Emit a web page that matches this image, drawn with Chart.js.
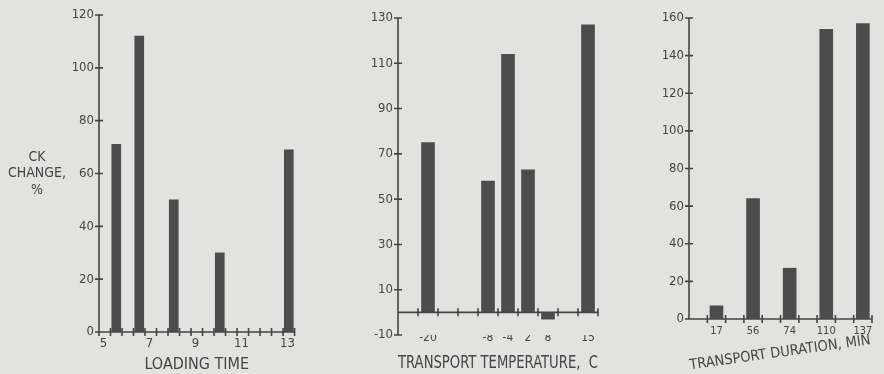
<!DOCTYPE html>
<html>
<head>
<meta charset="utf-8">
<script src="https://cdn.jsdelivr.net/npm/chart.js@4.4.1/dist/chart.umd.min.js"></script>
<style>
  html, body { margin: 0; padding: 0; background: #e2e2e0; }
  #wrap { position: relative; width: 884px; height: 374px; overflow: hidden; }
  canvas { position: absolute; top: 0; }
</style>
</head>
<body>
<div id="wrap">
  <canvas id="c1" style="left:0px" width="306" height="374"></canvas>
  <canvas id="c2" style="left:300px" width="300" height="374"></canvas>
  <canvas id="c3" style="left:600px" width="284" height="374"></canvas>
</div>
<script>
// --- data ---
// panel 1: loading time (half hour bins) vs CK change
var loadingTime = [5.25, 6.25, 7.75, 9.75, 12.75];
var loadingChange = [71, 112, 50, 30, 69];
var loadXTicks = [4.5, 5, 5.5, 6, 6.5, 7, 7.5, 8, 8.5, 9, 9.5, 10, 10.5, 11, 11.5, 12, 12.5, 13];
var loadXLabels = [5, 7, 9, 11, 13];
var loadYTicks = [0, 20, 40, 60, 80, 100, 120];

// panel 2: transport temperature
var tempLabels = ['', '-20', '', '', '-8', '-4', '2', '8', '', '15'];
var tempChange = [null, 75, null, null, 58, 114, 63, -3, null, 127];
var tempYTicks = [-10, 10, 30, 50, 70, 90, 110, 130];

// panel 3: transport duration
var durLabels = ['', '17', '', '56', '', '74', '', '110', '', '137'];
var durChange = [null, 7, null, 64, null, 27, null, 154, null, 157];
var durYTicks = [0, 20, 40, 60, 80, 100, 120, 140, 160];

var ink = '#454545';
var barColor = '#4c4c4c';
var fontFam = "'Liberation Sans Narrow', 'DejaVu Sans Condensed', 'Arial Narrow', sans-serif";
Chart.defaults.font.family = fontFam;
Chart.defaults.color = ink;

// plotter style axes: lines with tick marks crossing them
var plotterAxes = {
    id: 'plotterAxes',
    afterDatasetsDraw: function (chart, args, opts) {
        var ctx = chart.ctx, a = chart.chartArea;
        var x = chart.scales.x, y = chart.scales.y;
        var base = y.getPixelForValue(opts.base);
        ctx.save();
        ctx.strokeStyle = ink;
        ctx.lineWidth = 1.6;
        ctx.beginPath();
        ctx.moveTo(a.left, a.top);
        ctx.lineTo(a.left, a.bottom);
        ctx.moveTo(a.left, base);
        ctx.lineTo(a.right, base);
        y.ticks.forEach(function (t) {
            var py = y.getPixelForValue(t.value);
            ctx.moveTo(a.left - 4, py);
            ctx.lineTo(a.left + 4, py);
        });
        if (x.type === 'category') {
            var half = (x.getPixelForValue(1) - x.getPixelForValue(0)) / 2;
            for (var i = 1; i <= x.ticks.length; i++) {
                var px = x.getPixelForValue(i) - half;
                ctx.moveTo(px, base - 4);
                ctx.lineTo(px, base + 4);
            }
        } else {
            x.ticks.forEach(function (t) {
                var px = x.getPixelForValue(t.value);
                ctx.moveTo(px, base - 4);
                ctx.lineTo(px, base + 4);
            });
        }
        ctx.stroke();

        ctx.fillStyle = ink;
        ctx.textAlign = 'center';
        ctx.textBaseline = 'middle';
        if (opts.yTitle) {
            ctx.font = opts.yTitle.size + 'px ' + fontFam;
            opts.yTitle.lines.forEach(function (l, k) {
                ctx.fillText(l, opts.yTitle.x, opts.yTitle.y + k * opts.yTitle.step);
            });
        }
        if (opts.xTitle) {
            ctx.font = opts.xTitle.size + 'px ' + fontFam;
            ctx.translate(opts.xTitle.x, opts.xTitle.y);
            ctx.rotate(opts.xTitle.angle * Math.PI / 180);
            ctx.fillText(opts.xTitle.text, 0, 0);
        }
        ctx.restore();
    }
};

function yScale(min, max, ticks, width) {
    return {
        min: min, max: max,
        grid: { display: false, tickLength: 5 }, border: { display: false },
        afterBuildTicks: function (s) { s.ticks = ticks.map(function (v) { return { value: v }; }); },
        afterFit: function (s) { s.width = width; },
        ticks: { font: { size: 13 }, padding: 0, autoSkip: false }
    };
}

function baseOptions(pad, yopt, xopt, plug) {
    return {
        responsive: false,
        animation: false,
        layout: { padding: pad },
        plugins: { legend: { display: false }, tooltip: { enabled: false }, plotterAxes: plug },
        scales: { x: xopt, y: yopt }
    };
}

// panel 1
new Chart(document.getElementById('c1'), {
    type: 'bar',
    data: {
        datasets: [{
            data: loadingTime.map(function (t, i) { return { x: t, y: loadingChange[i] }; }),
            backgroundColor: barColor,
            barThickness: 9
        }]
    },
    options: baseOptions({ left: 0, right: 7, top: 15, bottom: 0 },
        yScale(0, 120, loadYTicks, 99),
        {
            type: 'linear', min: 4.5, max: 13, offset: false,
            grid: { display: false, tickLength: 0 }, border: { display: false },
            afterBuildTicks: function (s) { s.ticks = loadXTicks.map(function (v) { return { value: v }; }); },
            afterFit: function (s) { s.height = 42; },
            ticks: {
                autoSkip: false, maxRotation: 0, font: { size: 13 }, padding: 4, labelOffset: -7,
                callback: function (v) { return loadXLabels.indexOf(v) >= 0 ? String(v) : ''; }
            },
            title: { display: true, text: 'LOADING TIME', font: { size: 16 }, padding: 0 }
        },
        { base: 0, yTitle: { lines: ['CK', 'CHANGE,', '%'], x: 37, y: 157, step: 16.5, size: 14 } })
    ,
    plugins: [plotterAxes]
});

// panel 2
new Chart(document.getElementById('c2'), {
    type: 'bar',
    data: {
        labels: tempLabels,
        datasets: [{ data: tempChange, backgroundColor: barColor, barThickness: 13 }]
    },
    options: baseOptions({ left: 0, right: 2, top: 18, bottom: 0 },
        yScale(-10, 130, tempYTicks, 98),
        {
            type: 'category',
            grid: { display: false, tickLength: 0 }, border: { display: false },
            afterFit: function (s) { s.height = 39; },
            ticks: { autoSkip: false, maxRotation: 0, font: { size: 12 }, padding: -4 },
            title: { display: true, text: 'TRANSPORT TEMPERATURE,  C', font: { size: 17 }, padding: 0 }
        },
        { base: 0 }),
    plugins: [plotterAxes]
});

// panel 3
new Chart(document.getElementById('c3'), {
    type: 'bar',
    data: {
        labels: durLabels,
        datasets: [{ data: durChange, backgroundColor: barColor, barThickness: 13 }]
    },
    options: baseOptions({ left: 0, right: 12, top: 18, bottom: 0 },
        yScale(0, 160, durYTicks, 89),
        {
            type: 'category',
            grid: { display: false, tickLength: 0 }, border: { display: false },
            afterFit: function (s) { s.height = 55; },
            ticks: { autoSkip: false, maxRotation: 0, font: { size: 11 }, padding: 6 }
        },
        { base: 0, xTitle: { text: 'TRANSPORT DURATION, MIN', x: 180, y: 353, angle: -8, size: 14.5 } }),
    plugins: [plotterAxes]
});
</script>
</body>
</html>
